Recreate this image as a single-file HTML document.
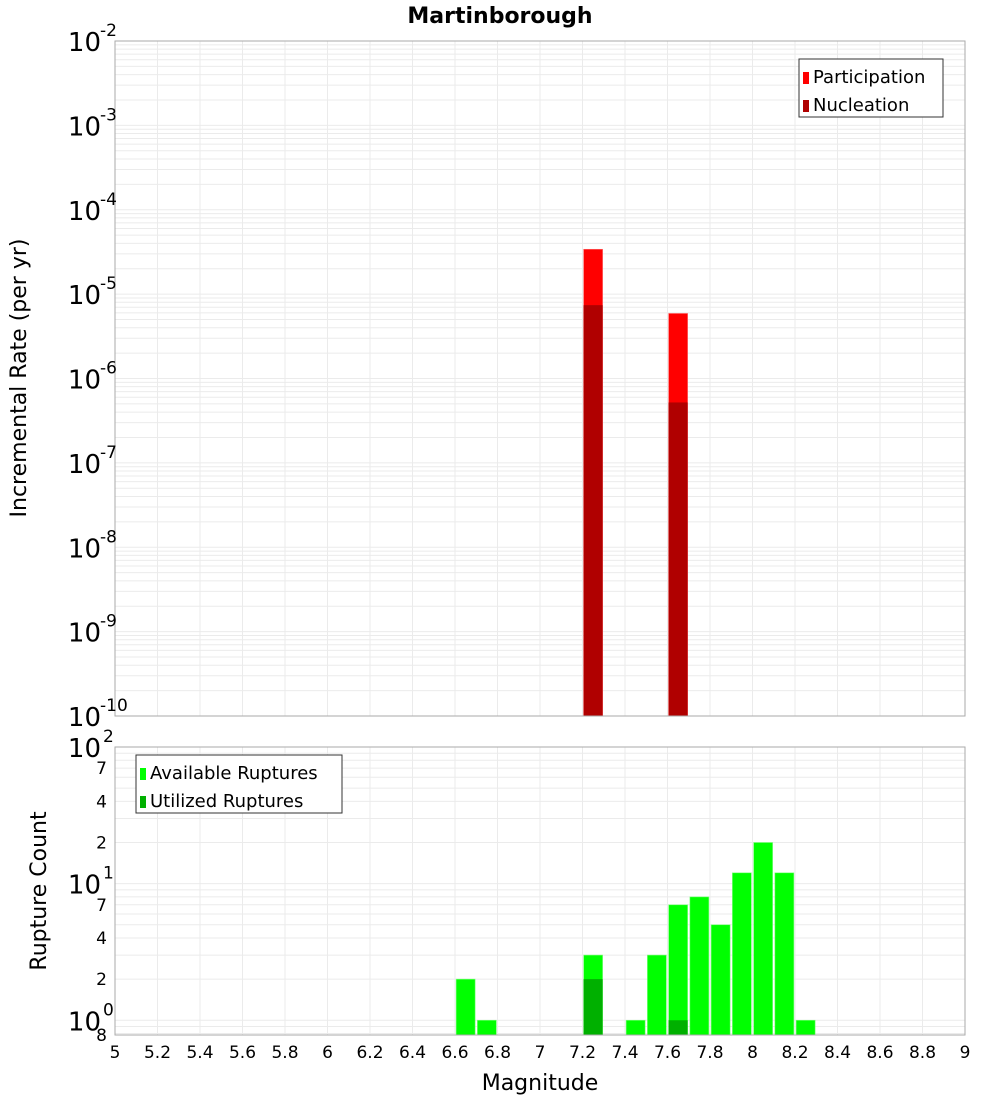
<!DOCTYPE html>
<html><head><meta charset="utf-8"><style>
body{margin:0;background:#fff;font-family:"Liberation Sans","DejaVu Sans",sans-serif}
</style></head><body>
<svg id="c" width="1000" height="1100" xmlns="http://www.w3.org/2000/svg" font-family="DejaVu Sans, Liberation Sans, sans-serif"></svg>
<script>
const rateMags = [7.25, 7.65];
const participation = [3.4e-5, 5.9e-6];
const nucleation = [7.4e-6, 5.2e-7];
const countMags = [6.65, 6.75, 7.25, 7.45, 7.55, 7.65, 7.75, 7.85, 7.95, 8.05, 8.15, 8.25];
const available = [2, 1, 3, 1, 3, 7, 8, 5, 12, 20, 12, 1];
const utilMags = [7.25, 7.65];
const utilized = [2, 1];
const xTicks = [5,5.2,5.4,5.6,5.8,6,6.2,6.4,6.6,6.8,7,7.2,7.4,7.6,7.8,8,8.2,8.4,8.6,8.8,9];
const topExps = [-10,-9,-8,-7,-6,-5,-4,-3,-2];
const botMinor = [[7,"7"],[4,"4"],[2,"2"],[70,"7"],[40,"4"],[20,"2"]];

const svg = document.getElementById('c');
const NS = 'http://www.w3.org/2000/svg';
function mk(tag, attrs, parent){const e=document.createElementNS(NS,tag);for(const k in attrs)e.setAttribute(k,attrs[k]);(parent||svg).appendChild(e);return e;}
const X0=115,X1=965;
const x = m => X0 + (m-5)/4*(X1-X0);
const T0=41,T1=716;
const yT = v => T1 - (Math.log10(v)+10)/8*(T1-T0);
const B0=747,B1=1035,BMIN=0.78;
const yB = v => B1 - (Math.log10(v)-Math.log10(BMIN))/(2-Math.log10(BMIN))*(B1-B0);

// title
let t=mk('text',{x:500,y:23,'text-anchor':'middle','font-size':22,'font-weight':'bold'});
t.textContent='Martinborough';

// grids
function grids(y0,y1,yf,lo,hi){
  const g=mk('g',{stroke:'#ebebeb','stroke-width':1});
  
  xTicks.forEach(m=>mk('line',{x1:x(m),x2:x(m),y1:y0,y2:y1},g));
  for(let e=lo;e<=hi;e++)for(let k=1;k<10;k++){const v=k*Math.pow(10,e);const yy=yf(v);if(yy>=y0-0.5&&yy<=y1+0.5)mk('line',{x1:X0,x2:X1,y1:yy,y2:yy},g);}
}
grids(T0,T1,yT,-10,-2);
grids(B0,B1,yB,-1,2);

// top bars
const bw=19;
rateMags.forEach((m,i)=>{
  let r=mk('rect',{x:x(m)-bw/2,y:yT(participation[i]),width:bw,height:T1-yT(participation[i]),fill:'#ff0000',stroke:'#ff6a6a','stroke-width':0.6});
  
  let n=mk('rect',{x:x(m)-bw/2,y:yT(nucleation[i]),width:bw,height:T1-yT(nucleation[i]),fill:'#b00000'});
  
});
// bottom bars
countMags.forEach((m,i)=>{
  let r=mk('rect',{x:x(m)-bw/2,y:yB(available[i]),width:bw,height:B1-yB(available[i]),fill:'#00ff00',stroke:'#7fff7f','stroke-width':0.6});
  
});
utilMags.forEach((m,i)=>{
  let r=mk('rect',{x:x(m)-bw/2,y:yB(utilized[i]),width:bw,height:B1-yB(utilized[i]),fill:'#00b000'});
  
});

// frames
[[T0,T1,'top-plot-frame'],[B0,B1,'bottom-plot-frame']].forEach(([a,b,nm])=>{
  let r=mk('rect',{x:X0,y:a,width:X1-X0,height:b-a,fill:'none',stroke:'#aaaaaa','stroke-width':1});
  
});

// top y ticks
topExps.forEach(e=>{
  const yy=yT(Math.pow(10,e));
  let g=mk('text',{x:101,y:yy+10,'text-anchor':'end','font-size':26});
  
  g.textContent='10';
  let s=mk('text',{x:100,y:yy-5,'font-size':17});
  
  s.textContent=String(e);
});
// bottom y ticks
[[100,'2'],[10,'1'],[1,'0']].forEach(([v,e])=>{
  const yy=yB(v);
  let g=mk('text',{x:101,y:yy+10,'text-anchor':'end','font-size':26});
  
  g.textContent='10';
  let s=mk('text',{x:103,y:yy-5,'font-size':17});
  
  s.textContent=e;
});
botMinor.concat([[BMIN,"8"]]).forEach(([v,l])=>{
  let g=mk('text',{x:107,y:Math.min(yB(v)+6,1042),'text-anchor':'end','font-size':17});
  
  g.textContent=l;
});
// x ticks
xTicks.forEach(m=>{
  let g=mk('text',{x:x(m),y:1058,'text-anchor':'middle','font-size':17});
  
  g.textContent=String(m);
});
// axis titles
let xt=mk('text',{x:540,y:1090,'text-anchor':'middle','font-size':22});
xt.textContent='Magnitude';
let y1=mk('text',{x:0,y:0,'text-anchor':'middle','font-size':22,transform:'translate(26,378) rotate(-90)'});
y1.textContent='Incremental Rate (per yr)';
let y2=mk('text',{x:0,y:0,'text-anchor':'middle','font-size':22,transform:'translate(46,891) rotate(-90)'});
y2.textContent='Rupture Count';

// legends
function legend(x0,y0,w,items,nm){
  const g=mk('g',{});
  mk('rect',{x:x0,y:y0,width:w,height:58,fill:'#fff',stroke:'#333','stroke-width':1},g);
  items.forEach(([c,l],i)=>{
    const yy=y0+14+i*28;
    mk('rect',{x:x0+4,y:yy-1,width:6,height:12,fill:c},g);
    let tt=mk('text',{x:x0+14,y:yy+10,'font-size':18},g);
    
    tt.textContent=l;
  });
}
legend(799,59,144,[['#ff0000','Participation'],['#b00000','Nucleation']],'top-legend');
legend(136,755,206,[['#00ff00','Available Ruptures'],['#00b000','Utilized Ruptures']],'bottom-legend');
</script>
</body></html>
